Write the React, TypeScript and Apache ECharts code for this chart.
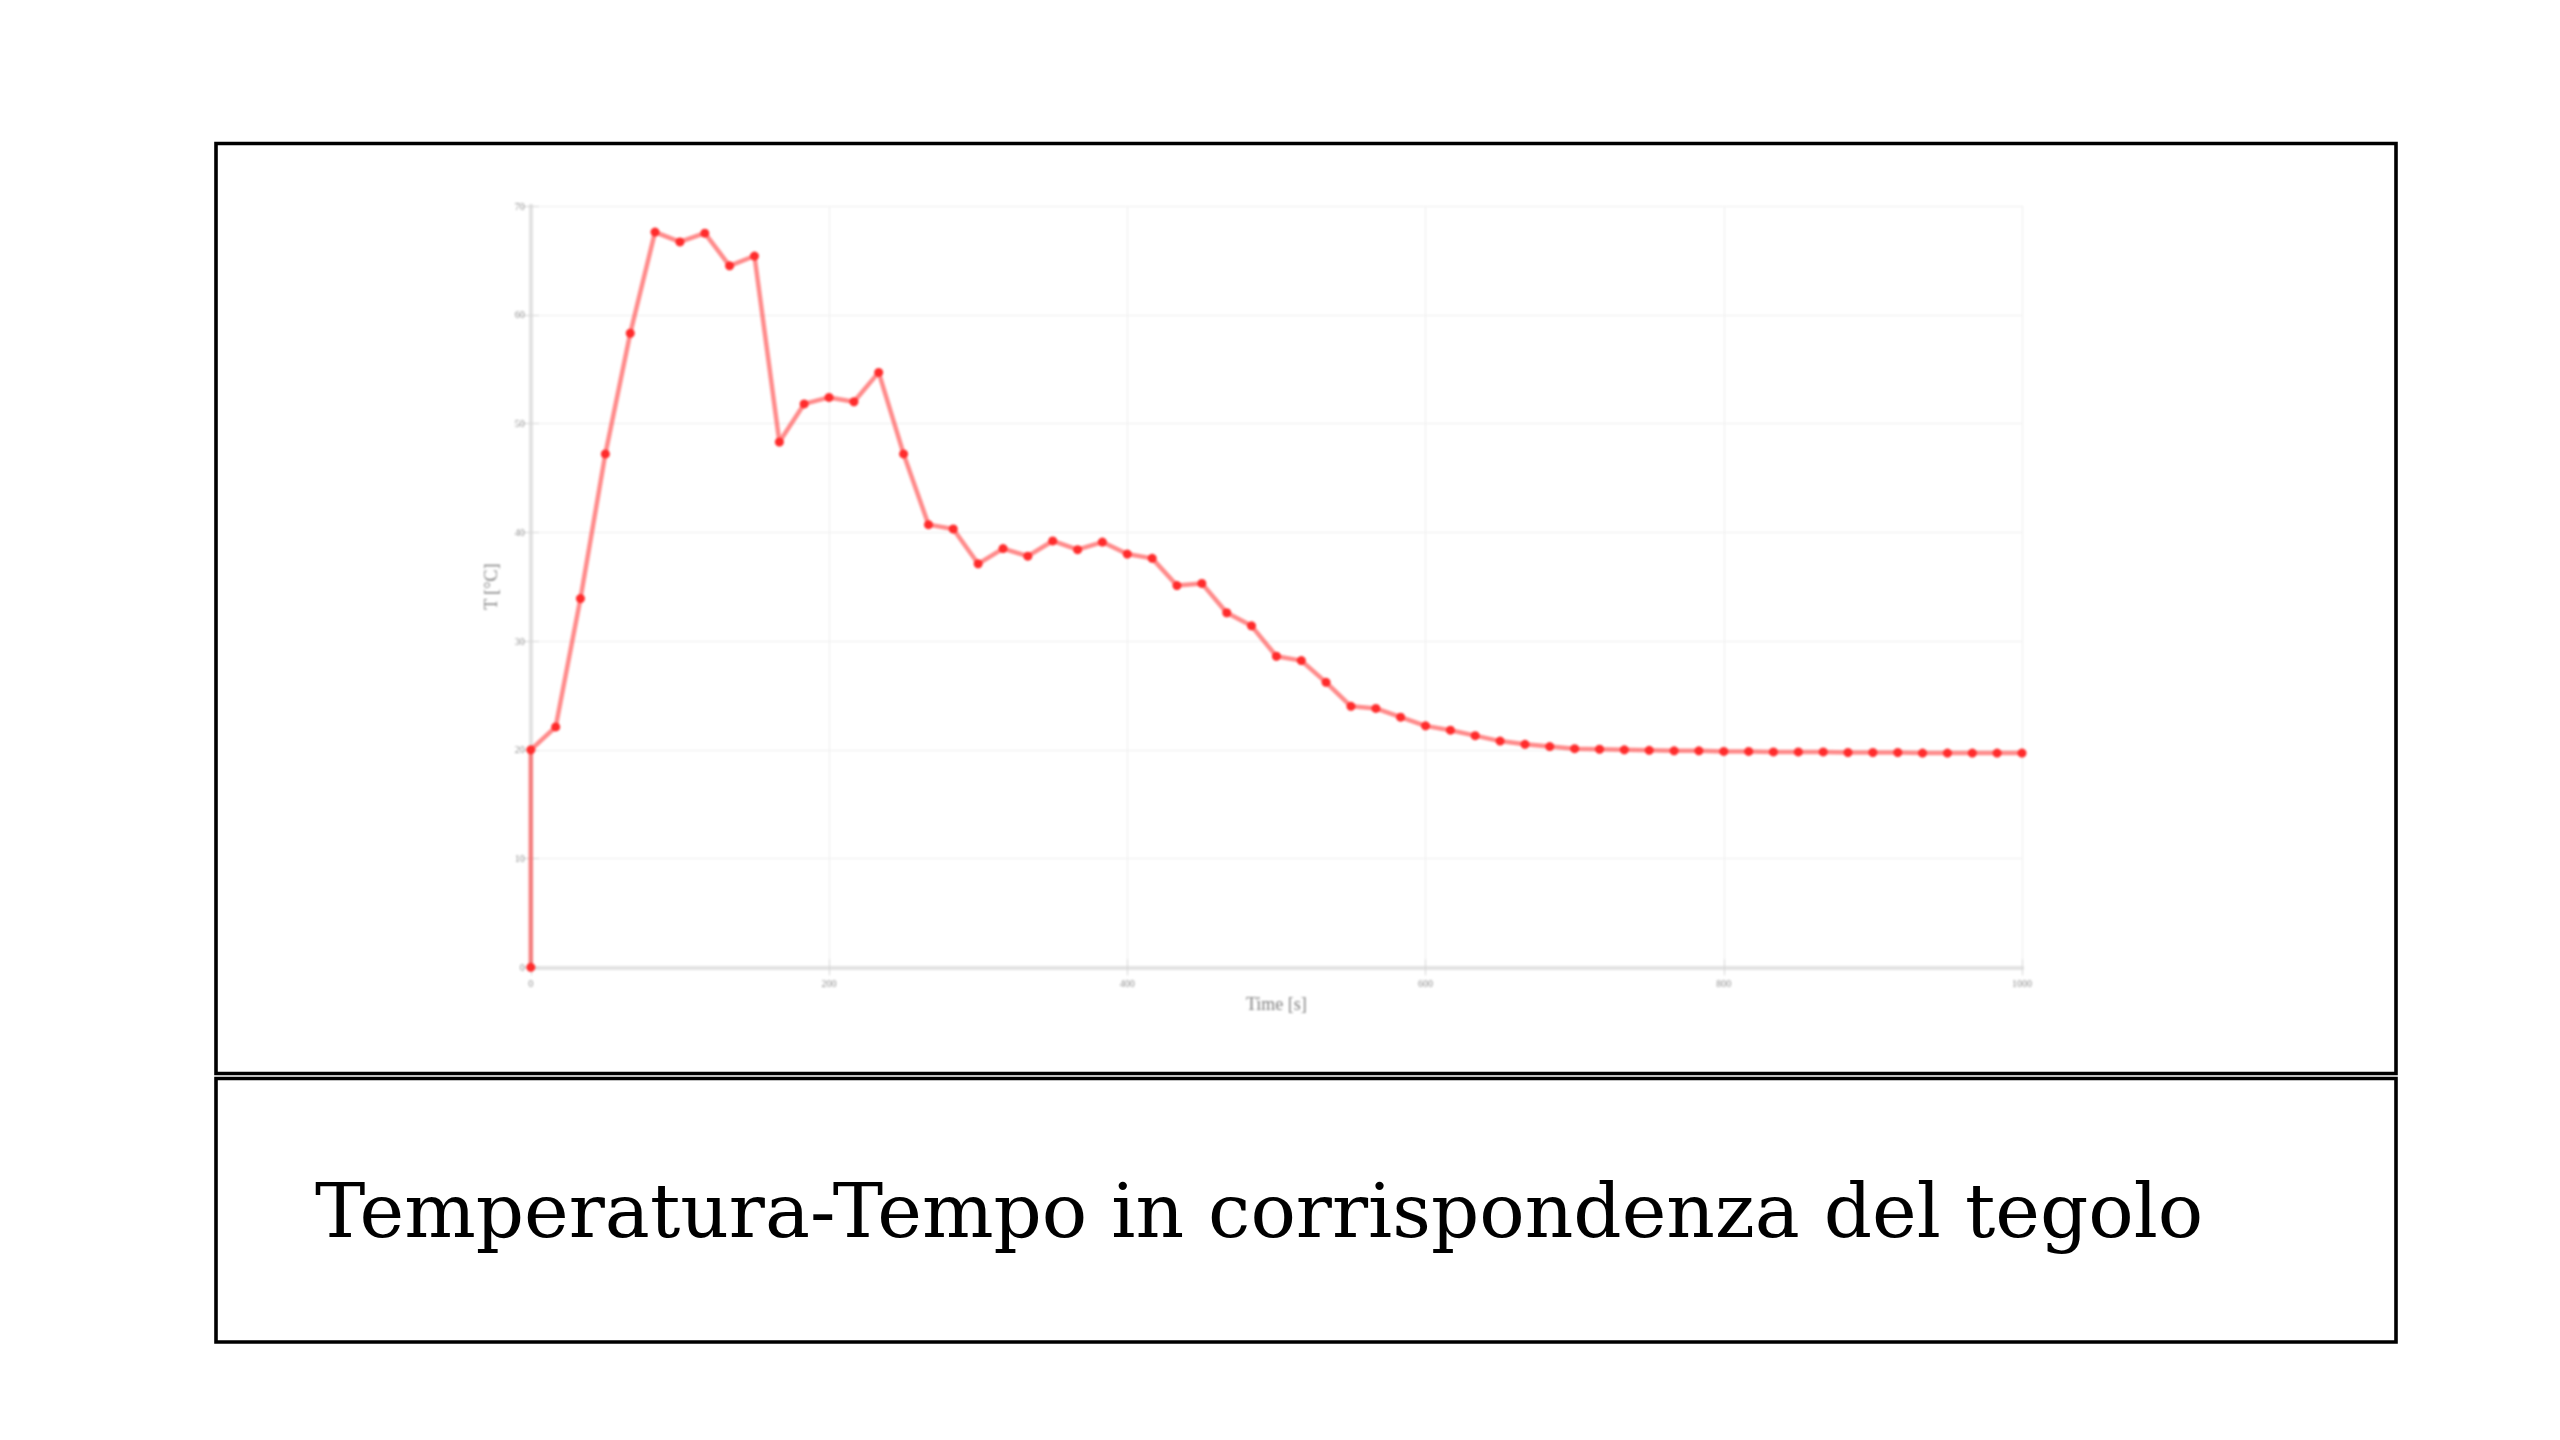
import React, { useEffect, useRef } from "react";
import * as echarts from "echarts";

// Sampling instants [s] (the first sample is repeated at t = 0: initial jump 0 -> 20 °C)
const timeS = [
  0, 0, 16.7, 33.3, 50, 66.7, 83.3, 100, 116.7, 133.3, 150, 166.7, 183.3, 200,
  216.7, 233.3, 250, 266.7, 283.3, 300, 316.7, 333.3, 350, 366.7, 383.3, 400,
  416.7, 433.3, 450, 466.7, 483.3, 500, 516.7, 533.3, 550, 566.7, 583.3, 600,
  616.7, 633.3, 650, 666.7, 683.3, 700, 716.7, 733.3, 750, 766.7, 783.3, 800,
  816.7, 833.3, 850, 866.7, 883.3, 900, 916.7, 933.3, 950, 966.7, 983.3, 1000,
];

// Temperature at the tile [°C]
const tempC = [
  0, 20, 22.1, 33.9, 47.2, 58.3, 67.6, 66.7, 67.5, 64.5, 65.4, 48.3, 51.8, 52.4,
  52.0, 54.7, 47.2, 40.7, 40.3, 37.1, 38.5, 37.8, 39.2, 38.4, 39.1, 38.0, 37.6,
  35.1, 35.3, 32.6, 31.4, 28.6, 28.2, 26.2, 24.0, 23.8, 23.0, 22.2, 21.8, 21.3,
  20.8, 20.5, 20.3, 20.1, 20.05, 20.0, 19.95, 19.9, 19.9, 19.85, 19.85, 19.8,
  19.8, 19.8, 19.75, 19.75, 19.75, 19.7, 19.7, 19.7, 19.7, 19.7,
];

const xLabel = "Time [s]";
const yLabel = "T [°C]";
const caption = "Temperatura-Tempo in corrispondenza del tegolo";

const PLOT_BOX = { left: 420, top: 170, width: 1660, height: 880 };

export default function App() {
  const frameRef = useRef<HTMLDivElement>(null);
  const plotRef = useRef<HTMLDivElement>(null);

  useEffect(() => {
    if (!frameRef.current || !plotRef.current) return;
    const frame = echarts.init(frameRef.current, undefined, { renderer: "svg" });
    const plot = echarts.init(plotRef.current, undefined, { renderer: "svg" });

    frame.setOption({
      animation: false,
      backgroundColor: "#ffffff",
      graphic: [
        {
          type: "rect",
          shape: { x: 216, y: 143.5, width: 2180, height: 930 },
          style: { fill: "none", stroke: "#000", lineWidth: 3.6 },
        },
        {
          type: "rect",
          shape: { x: 216, y: 1078.5, width: 2180, height: 263.5 },
          style: { fill: "none", stroke: "#000", lineWidth: 3.6 },
        },
        {
          type: "text",
          x: 315,
          y: 1211,
          style: {
            text: caption,
            fill: "#000",
            font: '75.5px "DejaVu Serif", serif',
            align: "left",
            verticalAlign: "middle",
          },
        },
      ],
    });

    const axisLine = { show: true, lineStyle: { color: "#e2e2e2", width: 4 } };
    const tick = { show: true, inside: true, length: 8, lineStyle: { color: "#d4d4d4", width: 1 } };
    const tickLabel = { color: "#8f8f8f", fontSize: 10, fontFamily: "Liberation Serif" };

    plot.setOption({
      animation: false,
      grid: { left: 110.8, top: 36, width: 1491.2, height: 761.3, containLabel: false },
      xAxis: [
        {
          type: "value",
          position: "bottom",
          min: 0,
          max: 1000,
          interval: 200,
          name: xLabel,
          nameLocation: "middle",
          nameGap: 28,
          nameTextStyle: { color: "#808080", fontSize: 18, fontFamily: "Liberation Serif" },
          axisLine,
          axisTick: tick,
          axisLabel: { ...tickLabel, margin: 11, formatter: (v: number) => String(v) },
          splitLine: { show: true, lineStyle: { color: "#eeeeee", width: 1 } },
        },
        {
          type: "value",
          position: "top",
          min: 0,
          max: 1000,
          interval: 200,
          axisLine,
          axisTick: tick,
          axisLabel: { show: false },
          splitLine: { show: false },
        },
      ],
      yAxis: [
        {
          type: "value",
          position: "left",
          min: 0,
          max: 70,
          interval: 10,
          name: yLabel,
          nameLocation: "middle",
          nameGap: 31,
          nameTextStyle: { color: "#808080", fontSize: 18, fontFamily: "Liberation Serif" },
          axisLine,
          axisTick: tick,
          axisLabel: { ...tickLabel, margin: 6 },
          splitLine: { show: true, lineStyle: { color: "#eeeeee", width: 1 } },
        },
        {
          type: "value",
          position: "right",
          min: 0,
          max: 70,
          interval: 10,
          axisLine,
          axisTick: tick,
          axisLabel: { show: false },
          splitLine: { show: false },
        },
      ],
      series: [
        {
          type: "line",
          data: timeS.map((t, i) => [t, tempC[i]]),
          xAxisIndex: 0,
          yAxisIndex: 0,
          symbol: "circle",
          symbolSize: 9,
          showAllSymbol: true,
          lineStyle: { color: "rgba(255, 60, 60, 0.6)", width: 4.5 },
          itemStyle: { color: "#ff2b2b", borderWidth: 0 },
          clip: false,
        },
      ],
    });

    return () => {
      frame.dispose();
      plot.dispose();
    };
  }, []);

  return (
    <div
      style={{
        position: "fixed",
        left: 0,
        top: 0,
        width: 2560,
        height: 1440,
        background: "#fff",
      }}
    >
      <div ref={frameRef} style={{ position: "absolute", left: 0, top: 0, width: 2560, height: 1440 }} />
      <div
        ref={plotRef}
        style={{
          position: "absolute",
          left: PLOT_BOX.left,
          top: PLOT_BOX.top,
          width: PLOT_BOX.width,
          height: PLOT_BOX.height,
          filter: "blur(1.3px)",
        }}
      />
    </div>
  );
}
